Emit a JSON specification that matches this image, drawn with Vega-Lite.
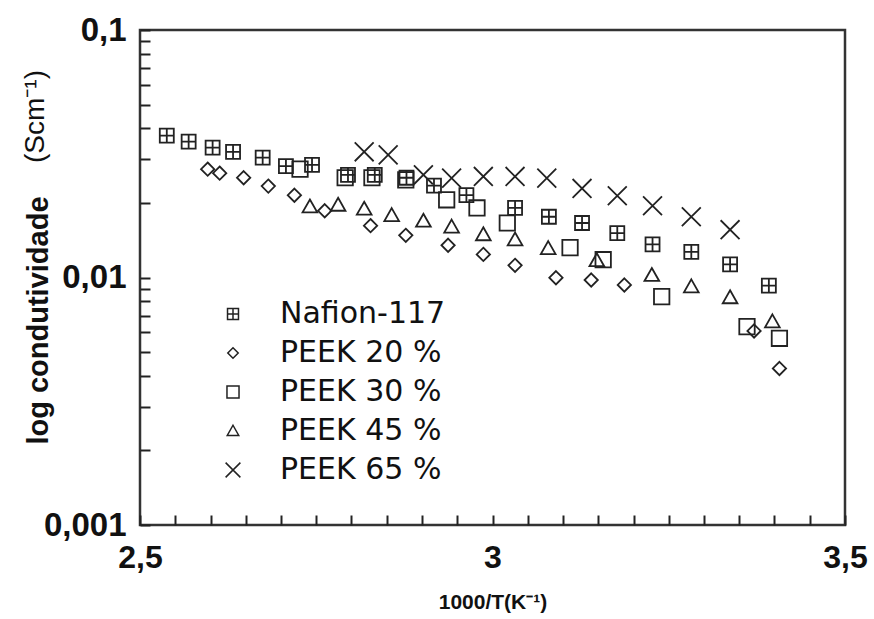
{
  "$schema": "https://vega.github.io/schema/vega-lite/v6.json",
  "autosize": {"type": "none"},
  "width": 705,
  "height": 495,
  "padding": {"left": 140, "top": 30, "right": 29, "bottom": 94},
  "background": "white",
  "title": {
    "text": "(Scm⁻¹)",
    "orient": "left",
    "anchor": "end",
    "frame": "group",
    "offset": 0,
    "dx": -40,
    "dy": 26,
    "font": "Liberation Sans",
    "fontSize": 28,
    "fontWeight": "normal",
    "color": "#111"
  },
  "config": {
    "view": {"stroke": "#333", "strokeWidth": 2.5},
    "font": "Liberation Sans"
  },
  "data": {
    "values": [
      {"s": "Nafion-117", "x": 2.538, "y": 0.0374},
      {"s": "Nafion-117", "x": 2.569, "y": 0.0354},
      {"s": "Nafion-117", "x": 2.603, "y": 0.0335},
      {"s": "Nafion-117", "x": 2.632, "y": 0.0322},
      {"s": "Nafion-117", "x": 2.674, "y": 0.0305},
      {"s": "Nafion-117", "x": 2.707, "y": 0.0282},
      {"s": "Nafion-117", "x": 2.744, "y": 0.0285},
      {"s": "Nafion-117", "x": 2.795, "y": 0.0260},
      {"s": "Nafion-117", "x": 2.833, "y": 0.0260},
      {"s": "Nafion-117", "x": 2.878, "y": 0.0253},
      {"s": "Nafion-117", "x": 2.917, "y": 0.0235},
      {"s": "Nafion-117", "x": 2.963, "y": 0.0215},
      {"s": "Nafion-117", "x": 3.032, "y": 0.0191},
      {"s": "Nafion-117", "x": 3.080, "y": 0.0176},
      {"s": "Nafion-117", "x": 3.127, "y": 0.0166},
      {"s": "Nafion-117", "x": 3.177, "y": 0.0151},
      {"s": "Nafion-117", "x": 3.227, "y": 0.0136},
      {"s": "Nafion-117", "x": 3.282, "y": 0.0127},
      {"s": "Nafion-117", "x": 3.337, "y": 0.0113},
      {"s": "Nafion-117", "x": 3.392, "y": 0.00927},

      {"s": "PEEK 20 %", "x": 2.596, "y": 0.0274},
      {"s": "PEEK 20 %", "x": 2.613, "y": 0.0264},
      {"s": "PEEK 20 %", "x": 2.647, "y": 0.0253},
      {"s": "PEEK 20 %", "x": 2.682, "y": 0.0234},
      {"s": "PEEK 20 %", "x": 2.719, "y": 0.0215},
      {"s": "PEEK 20 %", "x": 2.762, "y": 0.0186},
      {"s": "PEEK 20 %", "x": 2.827, "y": 0.0162},
      {"s": "PEEK 20 %", "x": 2.877, "y": 0.0148},
      {"s": "PEEK 20 %", "x": 2.937, "y": 0.0135},
      {"s": "PEEK 20 %", "x": 2.987, "y": 0.0124},
      {"s": "PEEK 20 %", "x": 3.032, "y": 0.0112},
      {"s": "PEEK 20 %", "x": 3.090, "y": 0.00998},
      {"s": "PEEK 20 %", "x": 3.140, "y": 0.00977},
      {"s": "PEEK 20 %", "x": 3.187, "y": 0.00933},
      {"s": "PEEK 20 %", "x": 3.371, "y": 0.00608},
      {"s": "PEEK 20 %", "x": 3.407, "y": 0.00429},

      {"s": "PEEK 30 %", "x": 2.727, "y": 0.0274},
      {"s": "PEEK 30 %", "x": 2.791, "y": 0.0253},
      {"s": "PEEK 30 %", "x": 2.829, "y": 0.0253},
      {"s": "PEEK 30 %", "x": 2.877, "y": 0.0248},
      {"s": "PEEK 30 %", "x": 2.935, "y": 0.0206},
      {"s": "PEEK 30 %", "x": 2.978, "y": 0.0191},
      {"s": "PEEK 30 %", "x": 3.021, "y": 0.0166},
      {"s": "PEEK 30 %", "x": 3.110, "y": 0.0132},
      {"s": "PEEK 30 %", "x": 3.157, "y": 0.0118},
      {"s": "PEEK 30 %", "x": 3.240, "y": 0.00837},
      {"s": "PEEK 30 %", "x": 3.361, "y": 0.00633},
      {"s": "PEEK 30 %", "x": 3.407, "y": 0.00568},

      {"s": "PEEK 45 %", "x": 2.741, "y": 0.0193},
      {"s": "PEEK 45 %", "x": 2.781, "y": 0.0196},
      {"s": "PEEK 45 %", "x": 2.818, "y": 0.0189},
      {"s": "PEEK 45 %", "x": 2.857, "y": 0.0178},
      {"s": "PEEK 45 %", "x": 2.902, "y": 0.0169},
      {"s": "PEEK 45 %", "x": 2.942, "y": 0.0160},
      {"s": "PEEK 45 %", "x": 2.987, "y": 0.0149},
      {"s": "PEEK 45 %", "x": 3.032, "y": 0.0142},
      {"s": "PEEK 45 %", "x": 3.079, "y": 0.0131},
      {"s": "PEEK 45 %", "x": 3.148, "y": 0.0117},
      {"s": "PEEK 45 %", "x": 3.226, "y": 0.0102},
      {"s": "PEEK 45 %", "x": 3.282, "y": 0.00918},
      {"s": "PEEK 45 %", "x": 3.337, "y": 0.00829},
      {"s": "PEEK 45 %", "x": 3.397, "y": 0.00663},

      {"s": "PEEK 65 %", "x": 2.818, "y": 0.0322},
      {"s": "PEEK 65 %", "x": 2.852, "y": 0.0313},
      {"s": "PEEK 65 %", "x": 2.902, "y": 0.0260},
      {"s": "PEEK 65 %", "x": 2.942, "y": 0.0252},
      {"s": "PEEK 65 %", "x": 2.987, "y": 0.0256},
      {"s": "PEEK 65 %", "x": 3.032, "y": 0.0256},
      {"s": "PEEK 65 %", "x": 3.077, "y": 0.0252},
      {"s": "PEEK 65 %", "x": 3.127, "y": 0.0229},
      {"s": "PEEK 65 %", "x": 3.177, "y": 0.0214},
      {"s": "PEEK 65 %", "x": 3.227, "y": 0.0195},
      {"s": "PEEK 65 %", "x": 3.282, "y": 0.0176},
      {"s": "PEEK 65 %", "x": 3.337, "y": 0.0156}
    ]
  },
  "mark": {
    "type": "point",
    "filled": false,
    "color": "#222",
    "strokeWidth": 1.8,
    "size": 196,
    "opacity": 1
  },
  "encoding": {
    "x": {
      "field": "x",
      "type": "quantitative",
      "scale": {"domain": [2.5, 3.5], "nice": false, "zero": false},
      "axis": {
        "title": "1000/T(K⁻¹)",
        "titleFont": "Liberation Sans",
        "titleFontSize": 21,
        "titleFontWeight": "bold",
        "titleColor": "#111",
        "titlePadding": 18,
        "values": [2.5, 2.55, 2.6, 2.65, 2.7, 2.75, 2.8, 2.85, 2.9, 2.95, 3, 3.05, 3.1, 3.15, 3.2, 3.25, 3.3, 3.35, 3.4, 3.45, 3.5],
        "labelExpr": "datum.value == 2.5 ? '2,5' : datum.value == 3 ? '3' : datum.value == 3.5 ? '3,5' : ''",
        "labelFont": "Liberation Sans",
        "labelFontSize": 32,
        "labelFontWeight": "bold",
        "labelColor": "#111",
        "labelPadding": 27,
        "labelFlush": false,
        "labelOverlap": false,
        "domain": false,
        "grid": false,
        "ticks": true,
        "tickColor": "#222",
        "tickWidth": 2,
        "tickSize": -10
      }
    },
    "y": {
      "field": "y",
      "type": "quantitative",
      "scale": {"type": "log", "domain": [0.001, 0.1], "nice": false},
      "axis": {
        "title": "log condutividade",
        "titleFont": "Liberation Sans",
        "titleFontSize": 29,
        "titleFontWeight": "bold",
        "titleColor": "#111",
        "titleX": -102,
        "titleY": 290,
        "titleBaseline": "middle",
        "values": [0.001, 0.002, 0.003, 0.004, 0.005, 0.006, 0.007, 0.008, 0.009, 0.01, 0.02, 0.03, 0.04, 0.05, 0.06, 0.07, 0.08, 0.09, 0.1],
        "labelExpr": "datum.value == 0.1 ? '0,1' : datum.value == 0.01 ? '0,01' : datum.value == 0.001 ? '0,001' : ''",
        "labelFont": "Liberation Sans",
        "labelFontSize": 33,
        "labelFontWeight": "bold",
        "labelColor": "#111",
        "labelPadding": 24,
        "labelFlush": false,
        "labelOverlap": false,
        "domain": false,
        "grid": false,
        "ticks": true,
        "tickColor": "#222",
        "tickWidth": 2,
        "tickSize": -10
      }
    },
    "shape": {
      "field": "s",
      "type": "nominal",
      "scale": {
        "domain": ["Nafion-117", "PEEK 20 %", "PEEK 30 %", "PEEK 45 %", "PEEK 65 %"],
        "range": [
          "M-1,-1H1V1H-1Z M0,-1V1 M-1,0H1",
          "M0,-0.95L0.95,0L0,0.95L-0.95,0Z",
          "M-1.1,-1.1H1.1V1.1H-1.1Z",
          "M0,-1.05L1.05,0.8H-1.05Z",
          "M-1.35,-1.35L1.35,1.35M-1.35,1.35L1.35,-1.35"
        ]
      },
      "legend": {
        "title": null,
        "orient": "none",
        "legendX": 78,
        "legendY": 269,
        "padding": 0,
        "labelFont": "DejaVu Sans",
        "labelFontSize": 30,
        "labelLimit": 400,
        "labelColor": "#111",
        "labelOffset": 32,
        "rowPadding": 9,
        "symbolSize": 120,
        "symbolStrokeWidth": 1.5,
        "symbolStrokeColor": "#222",
        "symbolFillColor": "transparent",
        "symbolOpacity": 1
      }
    }
  }
}
